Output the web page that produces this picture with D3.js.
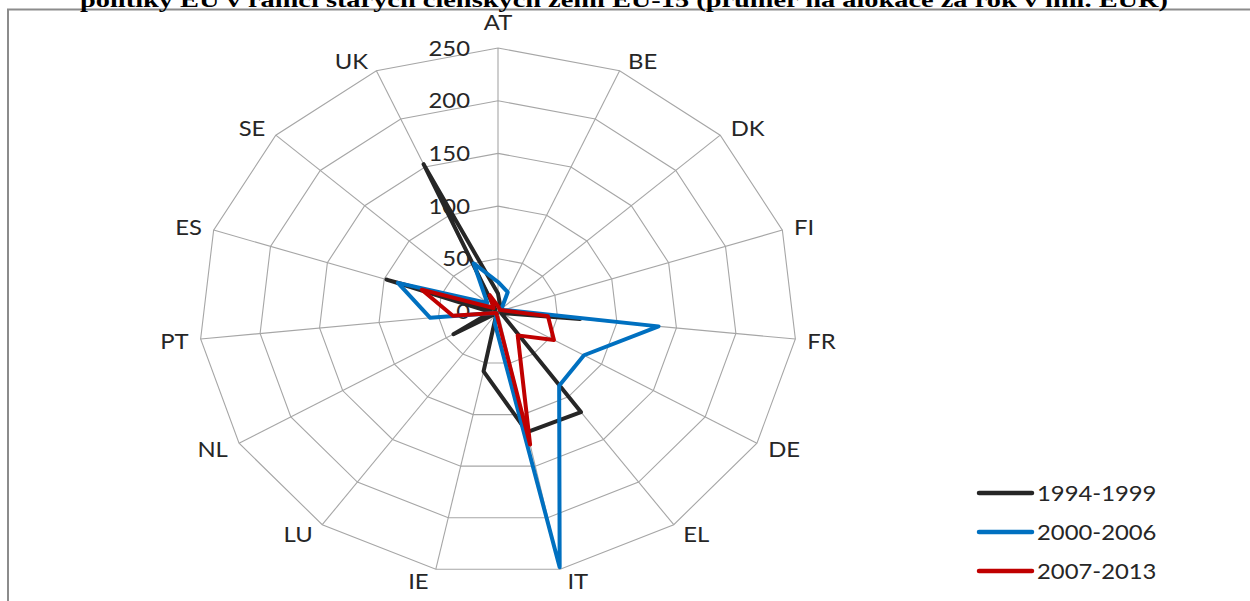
<!DOCTYPE html>
<html>
<head>
<meta charset="utf-8">
<script src="https://cdn.jsdelivr.net/npm/d3@7"></script>
<style>
  body{margin:0;background:#fff;}
  svg{display:block;}
</style>
</head>
<body>
<svg id="chart" width="1250" height="601"></svg>
<script>
// data (mil. EUR per year)
var categories = ["AT","BE","DK","FI","FR","DE","EL","IT","IE","LU","NL","PT","ES","SE","UK"];
var s1994 = [17, 5, 3, 2, 69, 3, 118, 117, 58, 2, 43, 6, 98, 3, 153];
var s2000 = [28, 20, 4, 5, 135, 83, 87, 248, 12, 2, 3, 57, 88, 12, 50];
var s2007 = [5, 3, 2, 4, 42, 54, 28, 129, 4, 2, 3, 38, 67, 5, 17];
var seriesNames = ["1994-1999","2000-2006","2007-2013"];
var seriesColors = ["#262626","#0070c0","#c00000"];
var ticks = [0, 50, 100, 150, 200, 250];
var titleText = "politiky EU v rámci starých členských zemí EU-15 (průměr na alokace za rok v mil. EUR)";

var cx = 498, cy = 311.5, stretch = 1.135;
var font = "Lato, Calibri, 'Open Sans', sans-serif";
var svg = d3.select("#chart");

// picture is stretched horizontally, so x and y radii differ
var rx = d3.scaleLinear().domain([0,250]).range([0,299]);
var ry = d3.scaleLinear().domain([0,250]).range([0,263.5]);
var ang = d3.scalePoint().domain(categories.concat(["_end"])).range([0, 2*Math.PI]);

function pt(cat, v){
    var a = ang(cat);
    return [cx + rx(v)*Math.sin(a), cy - ry(v)*Math.cos(a)];
}

// frame
svg.append("rect")
    .attr("x",8).attr("y",9.5)
    .attr("width",1260).attr("height",620)
    .attr("fill","none").attr("stroke","#8c8c8c").attr("stroke-width",2);

// title (cut off by the top edge)
svg.append("text")
    .attr("x",624).attr("y",7)
    .attr("text-anchor","middle")
    .attr("textLength",1088).attr("lengthAdjust","spacingAndGlyphs")
    .style("font-family","'Liberation Serif', 'Times New Roman', serif")
    .style("font-weight","bold").style("font-size","22px")
    .text(titleText);

// grid rings
var grid = svg.append("g");
ticks.filter(function(t){return t>0;}).forEach(function(t){
    grid.append("path")
	.attr("d", d3.line()(categories.map(function(c){return pt(c,t);})) + "Z")
	.attr("fill","none").attr("stroke","#a6a6a6").attr("stroke-width",1.1);
});
// spokes
categories.forEach(function(c){
    var p = pt(c,250);
    grid.append("line")
	.attr("x1",cx).attr("y1",cy).attr("x2",p[0]).attr("y2",p[1])
	.attr("stroke","#a6a6a6").attr("stroke-width",1.1);
});

function stext(x, y, anchor, str){
    var g = svg.append("g").attr("transform","translate("+x+","+y+") scale("+stretch+",1)");
    g.append("text").attr("text-anchor",anchor)
	.style("font-family",font).style("font-size","21px").style("fill","#262626")
	.text(str);
}

// tick labels
ticks.forEach(function(t){
    stext(470, cy - ry(t) + 7.5, "end", t);
});

// category labels
categories.forEach(function(c){
    var a = ang(c), s = Math.sin(a), co = Math.cos(a);
    var p = pt(c,250), anchor, dx, vc;
    if(Math.abs(s) < 0.1){
	anchor = "middle"; dx = 0;
	vc = co > 0 ? p[1]-26 : p[1]+14;
    } else {
	anchor = s > 0 ? "start" : "end";
	dx = (s > 0 ? 1 : -1)*(6 + 6*Math.abs(s));
	vc = p[1] - 11*co + 1;
    }
    stext(p[0]+dx, vc+7.5, anchor, c);
});

// series
var series = [s1994, s2000, s2007];
series.forEach(function(vals, k){
    var pts = categories.map(function(c,i){return pt(c, vals[i]);});
    svg.append("path")
	.attr("d", d3.line()(pts) + "Z")
	.attr("fill","none")
	.attr("stroke", seriesColors[k])
	.attr("stroke-width",4)
	.attr("stroke-linejoin","round");
});

// legend
var ly = d3.scalePoint().domain(seriesNames).range([493, 571]);
seriesNames.forEach(function(n, k){
    svg.append("line")
	.attr("x1",979).attr("x2",1032)
	.attr("y1",ly(n)).attr("y2",ly(n))
	.attr("stroke",seriesColors[k]).attr("stroke-width",4.5)
	.attr("stroke-linecap","round");
    stext(1037, ly(n)+7.5, "start", n);
});
</script>
</body>
</html>
